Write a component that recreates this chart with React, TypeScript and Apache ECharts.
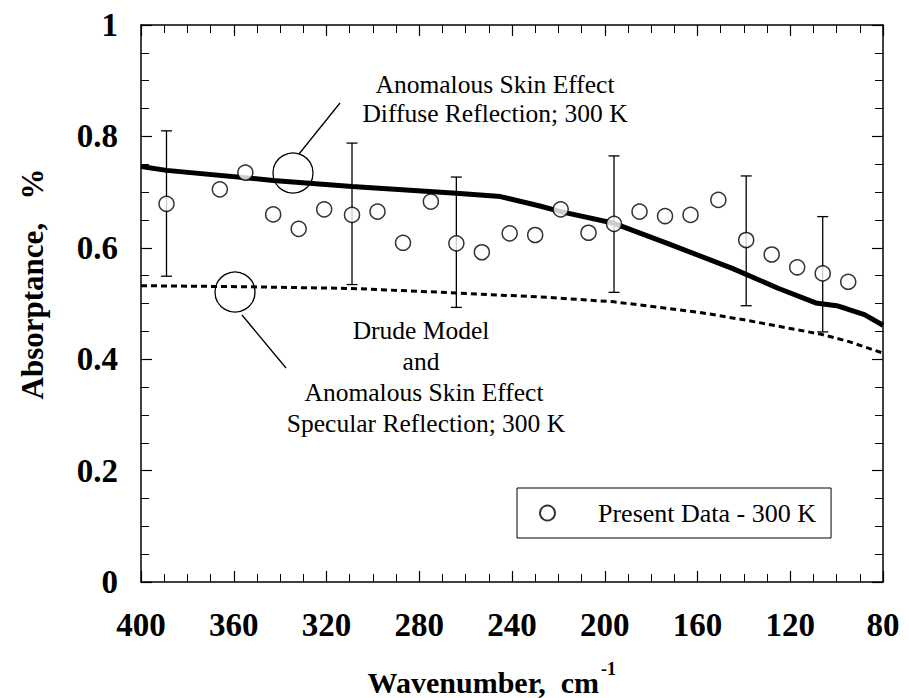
import React, { useEffect, useRef } from "react";
import * as echarts from "echarts";

// Present data (wavenumber cm^-1, absorptance)
const dataX = [389, 366, 355, 343, 332, 321, 309, 298, 287, 275, 264, 253, 241, 230, 219, 207, 196, 185, 174, 163, 151, 139, 128, 117, 106, 95];
const dataY = [0.679, 0.705, 0.735, 0.660, 0.634, 0.669, 0.659, 0.665, 0.609, 0.683, 0.608, 0.592, 0.626, 0.623, 0.669, 0.627, 0.643, 0.665, 0.657, 0.659, 0.686, 0.614, 0.588, 0.565, 0.554, 0.539];

// Error bars
const errX = [389, 309, 264, 196, 139, 106];
const errLow = [0.549, 0.534, 0.493, 0.520, 0.496, 0.449];
const errHigh = [0.810, 0.788, 0.727, 0.765, 0.729, 0.656];

// Anomalous skin effect, diffuse reflection (solid)
const diffuseX = [400, 389, 343, 309, 264, 245, 228, 219, 196, 173, 145, 125, 109, 100, 96, 88, 80];
const diffuseY = [0.746, 0.739, 0.721, 0.710, 0.698, 0.692, 0.675, 0.665, 0.644, 0.608, 0.563, 0.527, 0.501, 0.496, 0.491, 0.480, 0.461];

// Drude model / specular reflection (dashed)
const drudeX = [400, 353, 309, 264, 245, 228, 196, 159, 139, 107, 95, 80];
const drudeY = [0.532, 0.530, 0.527, 0.519, 0.515, 0.512, 0.503, 0.484, 0.470, 0.445, 0.432, 0.411];

const legendName = "Present Data - 300 K";
const topNote = ["Anomalous Skin Effect", "Diffuse Reflection; 300 K"];
const bottomNote = ["Drude Model", "and", "Anomalous Skin Effect", "Specular Reflection; 300 K"];

const SERIF = "'Liberation Serif', serif";

export default function App() {
  const ref = useRef<HTMLDivElement>(null);
  useEffect(() => {
    document.body.style.margin = "0";
    const chart = echarts.init(ref.current!, null, { renderer: "svg" });
    const axisCommon = {
      type: "value" as const,
      axisLine: { show: true, onZero: false, lineStyle: { color: "#000", width: 1.5 } },
      axisTick: { show: true, inside: true, length: 11, lineStyle: { color: "#000", width: 1.2 } },
      minorTick: { show: true, splitNumber: 4, length: 8, lineStyle: { color: "#000", width: 1 } },
      splitLine: { show: false },
      minorSplitLine: { show: false },
    };
    const labelStyle = { fontSize: 33, fontWeight: "bold" as const, fontFamily: SERIF, color: "#000" };
    const mkText = (s: string, x: number, y: number) => ({
      type: "text",
      x, y,
      style: { text: s, fontSize: 25.5, fontFamily: SERIF, fill: "#000", textAlign: "center", textVerticalAlign: "middle", align: "center", verticalAlign: "middle" },
    });
    chart.setOption({
      animation: false,
      backgroundColor: "#fff",
      grid: { left: 141, right: 26, top: 25, bottom: 116, containLabel: false },
      xAxis: [
        { ...axisCommon, min: 80, max: 400, interval: 40, inverse: true, position: "bottom",
          axisLabel: { ...labelStyle, margin: 26 } },
        { ...axisCommon, min: 80, max: 400, interval: 40, inverse: true, position: "top",
          axisLabel: { show: false } },
      ],
      yAxis: [
        { ...axisCommon, min: 0, max: 1, interval: 0.2, position: "left",
          axisLabel: { ...labelStyle, margin: 23 } },
        { ...axisCommon, min: 0, max: 1, interval: 0.2, position: "right",
          axisLabel: { show: false } },
      ],
      legend: {
        data: [legendName],
        left: 517, top: 488,
        orient: "horizontal",
        borderColor: "#000", borderWidth: 1, borderRadius: 0,
        backgroundColor: "#fff",
        padding: [12, 15, 12, 22],
        itemWidth: 15, itemHeight: 15,
        selectedMode: false,
        textStyle: { fontSize: 26, fontFamily: SERIF, color: "#000", padding: [0, 0, 0, 38] },
      },
      series: [
        {
          name: "Diffuse", type: "line", xAxisIndex: 0, yAxisIndex: 0,
          data: diffuseX.map((x, i) => [x, diffuseY[i]]),
          showSymbol: false, symbol: "none",
          lineStyle: { color: "#000", width: 5 }, z: 2,
        },
        {
          name: "Drude", type: "line", xAxisIndex: 0, yAxisIndex: 0,
          data: drudeX.map((x, i) => [x, drudeY[i]]),
          showSymbol: false, symbol: "none",
          lineStyle: { color: "#000", width: 3, type: [6, 4] }, z: 2,
        },
        {
          name: "Errors", type: "custom", xAxisIndex: 0, yAxisIndex: 0,
          data: errX.map((x, i) => [x, errLow[i], errHigh[i]]),
          encode: { x: 0, y: [1, 2] },
          z: 3,
          renderItem: (params: any, api: any) => {
            const x = api.value(0);
            const lo = api.coord([x, api.value(1)]);
            const hi = api.coord([x, api.value(2)]);
            const hw = 5.5;
            const st = { stroke: "#000", lineWidth: 1.3 };
            return {
              type: "group",
              children: [
                { type: "line", shape: { x1: lo[0], y1: lo[1], x2: hi[0], y2: hi[1] }, style: st },
                { type: "line", shape: { x1: lo[0] - hw, y1: lo[1], x2: lo[0] + hw, y2: lo[1] }, style: st },
                { type: "line", shape: { x1: hi[0] - hw, y1: hi[1], x2: hi[0] + hw, y2: hi[1] }, style: st },
              ],
            };
          },
        },
        {
          name: legendName, type: "scatter", xAxisIndex: 0, yAxisIndex: 0,
          data: dataX.map((x, i) => [x, dataY[i]]),
          symbol: "circle", symbolSize: 15,
          itemStyle: { color: "#fff", borderColor: "#000", borderWidth: 1.5 },
          z: 5,
        },
      ],
      graphic: [
        mkText(topNote[0], 495, 84),
        mkText(topNote[1], 495, 113),
        mkText(bottomNote[0], 421, 330),
        mkText(bottomNote[1], 421, 361),
        mkText(bottomNote[2], 424, 392),
        mkText(bottomNote[3], 426, 423),
        { type: "circle", shape: { cx: 293, cy: 173, r: 20 }, style: { fill: "none", stroke: "#000", lineWidth: 1.3 }, z: 10 },
        { type: "line", shape: { x1: 299, y1: 154, x2: 340, y2: 103 }, style: { stroke: "#000", lineWidth: 1.3 }, z: 10 },
        { type: "circle", shape: { cx: 235, cy: 292, r: 20 }, style: { fill: "none", stroke: "#000", lineWidth: 1.3 }, z: 10 },
        { type: "line", shape: { x1: 242, y1: 315, x2: 286, y2: 368 }, style: { stroke: "#000", lineWidth: 1.3 }, z: 10 },
        {
          type: "text", x: 32, y: 284, rotation: Math.PI / 2,
          style: { text: "Absorptance,   %", fontSize: 31, fontWeight: "bold", fontFamily: SERIF, fill: "#000", textAlign: "center", textVerticalAlign: "middle", align: "center", verticalAlign: "middle" },
        },
        {
          type: "text", x: 599, y: 682,
          style: { text: "Wavenumber,  cm", fontSize: 30, fontWeight: "bold", fontFamily: SERIF, fill: "#000", textAlign: "right", textVerticalAlign: "middle", align: "right", verticalAlign: "middle" },
        },
        {
          type: "text", x: 601, y: 669,
          style: { text: "-1", fontSize: 18, fontWeight: "bold", fontFamily: SERIF, fill: "#000", textAlign: "left", textVerticalAlign: "middle", align: "left", verticalAlign: "middle" },
        },
      ],
    });
    return () => chart.dispose();
  }, []);
  return <div ref={ref} style={{ position: "absolute", left: 0, top: 0, width: 909, height: 698 }} />;
}
